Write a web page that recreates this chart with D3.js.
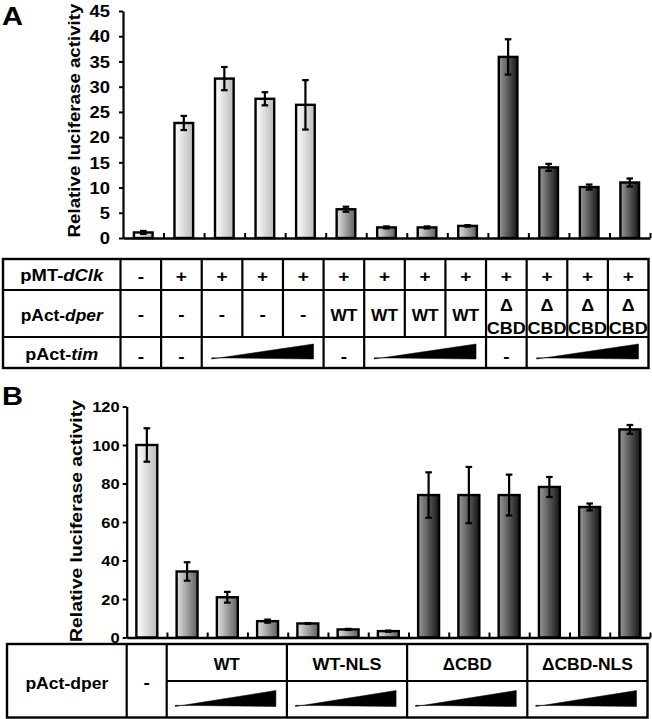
<!DOCTYPE html>
<html>
<head>
<meta charset="utf-8">
<script src="https://cdnjs.cloudflare.com/ajax/libs/d3/7.8.5/d3.min.js"></script>
<style>
  html, body { margin: 0; padding: 0; background: #fff; }
  svg { display: block; font-family: "Liberation Sans", Arial, Helvetica, sans-serif; font-weight: bold; }
</style>
</head>
<body>
<div id="chart"></div>
<script>
// ---------------- DATA ----------------
// Panel A
const categoriesA = ["ctrl", "Clk", "Clk+tim1", "Clk+tim2", "Clk+tim3",
  "Clk+WT", "Clk+WT+tim1", "Clk+WT+tim2", "Clk+WT+tim3",
  "Clk+dCBD", "Clk+dCBD+tim1", "Clk+dCBD+tim2", "Clk+dCBD+tim3"];
const valuesA = [1.1, 22.8, 31.6, 27.6, 26.4, 5.7, 2.1, 2.1, 2.4, 35.9, 14.0, 10.1, 11.0];
const errorsA = [0.3, 1.4, 2.3, 1.3, 4.9, 0.5, 0.2, 0.2, 0.15, 3.5, 0.7, 0.5, 0.8];
const shadesA = ["light", "light", "light", "light", "light", "mid", "mid", "mid", "mid", "dark", "dark", "dark", "dark"];
const yTicksA = [0, 5, 10, 15, 20, 25, 30, 35, 40, 45];
const rowClkA = ["-", "+", "+", "+", "+", "+", "+", "+", "+", "+", "+", "+", "+"];
const rowPerA = ["-", "-", "-", "-", "-", "WT", "WT", "WT", "WT", "ΔCBD", "ΔCBD", "ΔCBD", "ΔCBD"];
const rowTimA = [ // [from, to, label]  label null = increasing wedge
  [0, 1, "-"], [1, 2, "-"], [2, 5, null], [5, 6, "-"], [6, 9, null], [9, 10, "-"], [10, 13, null]];

// Panel B
const categoriesB = ["none", "WT1", "WT2", "WT3", "WT-NLS1", "WT-NLS2", "WT-NLS3",
  "dCBD1", "dCBD2", "dCBD3", "dCBD-NLS1", "dCBD-NLS2", "dCBD-NLS3"];
const valuesB = [100, 34.3, 20.9, 8.5, 7.3, 4.2, 3.3, 74, 74, 74, 78.2, 67.8, 108.1];
const errorsB = [8.7, 4.8, 2.8, 0.8, 0.2, 0.3, 0.3, 11.8, 14.6, 10.6, 5.2, 1.8, 2.3];
const shadesB = ["light", "mid", "mid", "mid", "mid", "mid", "mid", "dark", "dark", "dark", "dark", "dark", "dark"];
const yTicksB = [0, 20, 40, 60, 80, 100, 120];
const groupsB = [[1, 4, "WT"], [4, 7, "WT-NLS"], [7, 10, "ΔCBD"], [10, 13, "ΔCBD-NLS"]];

// ---------------- DRAW ----------------
const W = 652, H = 719, SX = 1.12;
const FONT = "'Liberation Sans', Arial, Helvetica, sans-serif";
const svg = d3.select("#chart").append("svg").attr("width", W).attr("height", H);
const defs = svg.append("defs");
const grads = { light: ["#ffffff", "#b9b9b9"], mid: ["#e2e2e2", "#5e5e5e"], dark: ["#9a9a9a", "#151515"] };
Object.entries(grads).forEach(([k, c]) => {
  const g = defs.append("linearGradient").attr("id", "g-" + k).attr("x1", 0).attr("x2", 1).attr("y1", 0).attr("y2", 0);
  g.append("stop").attr("offset", "0%").attr("stop-color", c[0]);
  g.append("stop").attr("offset", "100%").attr("stop-color", c[1]);
});

// text helper: opt.len -> scale horizontally so the text measures len px; otherwise widen by SX
function txt(parent, x, y, size, anchor, parts, opt) {
  opt = opt || {};
  const t = parent.append("text")
    .attr("text-anchor", anchor).attr("fill", "#000")
    .style("font-size", size + "px").style("font-family", FONT).style("font-weight", "bold");
  (Array.isArray(parts) ? parts : [[parts, false]]).forEach(([s, it]) => {
    t.append("tspan").text(s).style("font-style", it ? "italic" : "normal");
  });
  let sx = SX;
  if (opt.len) {
    const w = t.node().getComputedTextLength();
    if (w > 0) sx = opt.len / w;
  }
  t.attr("transform", `translate(${x},${y})` + (opt.rotate ? ` rotate(${opt.rotate})` : "") + ` scale(${sx},1)`);
  return t;
}

function panel(cfg) {
  const g = svg.append("g");
  const x = d3.scaleBand().domain(cfg.cats).range([cfg.x0, cfg.x1]).paddingInner(0).paddingOuter(0);
  const xe = d3.scaleLinear().domain([0, cfg.cats.length]).range([cfg.x0, cfg.x1]);
  const y = d3.scaleLinear().domain([0, cfg.ymax]).range([cfg.y0, cfg.ytop]);
  const bw = x.bandwidth() * cfg.barFrac;

  g.selectAll("rect.bar").data(cfg.vals).join("rect")
    .attr("x", (d, i) => x(cfg.cats[i]) + x.bandwidth() / 2 - bw / 2)
    .attr("y", d => y(d))
    .attr("width", bw)
    .attr("height", d => y(0) - y(d))
    .attr("fill", (d, i) => `url(#g-${cfg.shades[i]})`)
    .attr("stroke", "#000").attr("stroke-width", 2.4);

  const eg = g.selectAll("g.err").data(cfg.vals).join("g")
    .attr("transform", (d, i) => `translate(${x(cfg.cats[i]) + x.bandwidth() / 2},0)`);
  eg.append("line").attr("y1", (d, i) => y(d + cfg.errs[i])).attr("y2", (d, i) => y(d - cfg.errs[i]))
    .attr("stroke", "#000").attr("stroke-width", 2.2);
  [1, -1].forEach(s => {
    eg.append("line").attr("x1", -3.3).attr("x2", 3.3)
      .attr("y1", (d, i) => y(d + s * cfg.errs[i])).attr("y2", (d, i) => y(d + s * cfg.errs[i]))
      .attr("stroke", "#000").attr("stroke-width", 2.2);
  });

  const ya = g.append("g").attr("transform", `translate(${cfg.x0},0)`)
    .call(d3.axisLeft(y).tickValues(cfg.yticks).tickSize(4).tickSizeOuter(0).tickPadding(0));
  ya.select(".domain").attr("stroke-width", 2.2);
  ya.selectAll(".tick line").attr("stroke-width", 2);
  ya.selectAll(".tick text")
    .style("font-size", cfg.tickSize + "px").style("font-weight", "bold").style("font-family", FONT)
    .attr("x", -cfg.tickGap / cfg.tickSX).attr("dy", "0.36em").attr("transform", `scale(${cfg.tickSX},1)`);

  const xa = g.append("g").attr("transform", `translate(0,${cfg.y0})`)
    .call(d3.axisBottom(xe).tickValues(d3.range(1, cfg.cats.length + 1)).tickSize(-5).tickSizeOuter(0).tickFormat(""));
  xa.select(".domain").attr("stroke-width", 2.4);
  xa.selectAll(".tick line").attr("stroke-width", 2);

  txt(g, cfg.labelX, cfg.labelY, 17, "middle", "Relative luciferase activity", { rotate: -90, len: cfg.labelLen });
  txt(g, 2, cfg.letterY, 26, "start", cfg.letter);
  return { x, y };
}

// ---------- Panel A ----------
panel({ cats: categoriesA, vals: valuesA, errs: errorsA, shades: shadesA, yticks: yTicksA,
  x0: 123, x1: 650, y0: 238, ytop: 11, ymax: 45, barFrac: 0.46,
  tickSize: 16, tickSX: 1.15, tickGap: 13, labelX: 79.5, labelY: 120.5, labelLen: 234, letter: "A", letterY: 25 });

// Table A
const tA = svg.append("g");
const txA = d3.scaleLinear().domain([0, 13]).range([120.5, 648.5]);
const tTopA = 259, r1A = 290, r2A = 337, tBotA = 368, tLeftA = 3;
const ln = (p, x1, y1, x2, y2, w) => p.append("line").attr("x1", x1).attr("y1", y1).attr("x2", x2).attr("y2", y2)
  .attr("stroke", "#000").attr("stroke-width", w || 2.2);
tA.append("rect").attr("x", tLeftA).attr("y", tTopA).attr("width", txA(13) - tLeftA).attr("height", tBotA - tTopA)
  .attr("fill", "none").attr("stroke", "#000").attr("stroke-width", 2.4);
ln(tA, tLeftA, r1A, txA(13), r1A);
ln(tA, tLeftA, r2A, txA(13), r2A);
ln(tA, txA(0), tTopA, txA(0), tBotA);
d3.range(1, 13).forEach(i => ln(tA, txA(i), tTopA, txA(i), r2A));
rowTimA.forEach(([a, b]) => { if (a > 0) ln(tA, txA(a), r2A, txA(a), tBotA); });
const labCx = (tLeftA + txA(0)) / 2;
txt(tA, labCx, 281, 16, "middle", [["pMT-", false], ["dClk", true]], { len: 83 });
txt(tA, labCx, 320.5, 16, "middle", [["pAct-", false], ["dper", true]], { len: 82 });
txt(tA, labCx, 360, 16, "middle", [["pAct-", false], ["tim", true]], { len: 73 });
rowClkA.forEach((s, i) => txt(tA, (txA(i) + txA(i + 1)) / 2, 281.5, 17, "middle", s));
rowPerA.forEach((s, i) => {
  const cx = (txA(i) + txA(i + 1)) / 2;
  if (s.startsWith("Δ")) {
    txt(tA, cx, 310.5, 16, "middle", "Δ");
    txt(tA, cx, 333.5, 16, "middle", s.slice(1), { len: 39 });
  } else if (s === "-") {
    txt(tA, cx, 320, 17, "middle", s);
  } else {
    txt(tA, cx, 321, 16, "middle", s, { len: 27 });
  }
});
function wedge(p, xa, xb, yb, h) {
  p.append("path").attr("d", `M${xa},${yb} L${xb},${yb - h} L${xb},${yb} L${xa},${yb - 1.2} Z`)
    .attr("fill", "#000").attr("stroke", "#000").attr("stroke-width", 0.5);
}
rowTimA.forEach(([a, b, s]) => {
  if (s) txt(tA, (txA(a) + txA(b)) / 2, 361.5, 17, "middle", s);
  else wedge(tA, txA(a) + 10, txA(b) - 10, 359, 15);
});

// ---------- Panel B ----------
panel({ cats: categoriesB, vals: valuesB, errs: errorsB, shades: shadesB, yticks: yTicksB,
  x0: 126.7, x1: 650, y0: 637.5, ytop: 406.5, ymax: 120, barFrac: 0.52,
  tickSize: 15, tickSX: 1.1, tickGap: 7, labelX: 81.5, labelY: 521, labelLen: 242, letter: "B", letterY: 405 });

// Table B
const tB = svg.append("g");
const txB = d3.scaleLinear().domain([1, 13]).range([166.7, 647.5]);
const tTopB = 644, r1B = 681, tBotB = 717.5, tLeftB = 7, labRB = 126.7;
tB.append("rect").attr("x", tLeftB).attr("y", tTopB).attr("width", txB(13) - tLeftB).attr("height", tBotB - tTopB)
  .attr("fill", "none").attr("stroke", "#000").attr("stroke-width", 2.4);
ln(tB, labRB, tTopB, labRB, tBotB);
ln(tB, txB(1), tTopB, txB(1), tBotB);
ln(tB, txB(1), r1B, txB(13), r1B);
const groupLen = { "WT": 26, "WT-NLS": 69, "ΔCBD": 49, "ΔCBD-NLS": 91 };
groupsB.forEach(([a, b, s]) => {
  if (a > 1) ln(tB, txB(a), tTopB, txB(a), tBotB);
  txt(tB, (txB(a) + txB(b)) / 2, 669.5, 16, "middle", s, { len: groupLen[s] });
  wedge(tB, txB(a) + 8.5, txB(b) - 11, 706.5, 16);
});
txt(tB, (tLeftB + labRB) / 2, 689, 17, "middle", "pAct-dper", { len: 83 });
txt(tB, (labRB + txB(1)) / 2, 687.5, 17, "middle", "-");
</script>
</body>
</html>
